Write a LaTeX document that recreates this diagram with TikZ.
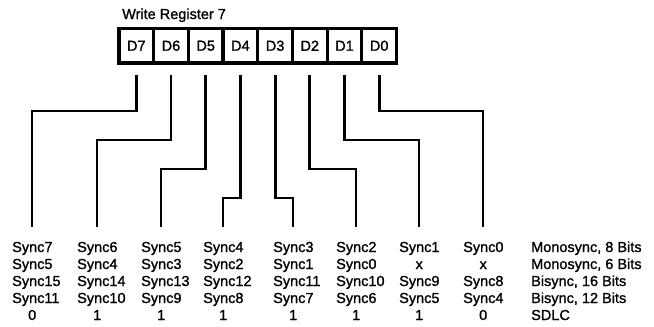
\documentclass[tikz,border=0pt]{standalone}
\usepackage{fontspec}
\setmainfont{Liberation Sans}[FakeBold=1.2]
\usetikzlibrary{positioning}

\tikzset{
    bitcell/.style={draw, line width=3.2pt, minimum width=34.7pt, minimum height=34.5pt,
        inner sep=0pt, outer sep=0pt, font=\fontsize{14.5}{17}\selectfont},
    wire/.style={line width=2.8pt},
    entry/.style={anchor=base west, inner sep=0pt, font=\fontsize{14.5}{17}\selectfont},
}
\newcommand\midbox[1]{\makebox[40pt]{#1}}

\begin{document}
\begin{tikzpicture}[x=1pt, y=-1pt]
\useasboundingbox (0,0) rectangle (654,327);

\pgfmathsetmacro\stubgap{12}
\pgfmathsetmacro\lineend{227}
\pgfmathsetmacro\firstrow{252}
\pgfmathsetmacro\rowsep{17}

\node[entry] (title) at (122,19) {Write Register 7};

\node[bitcell] (d7) at (136.3,45.75) {D7};
\foreach \bit [evaluate=\bit as \prev using int(\bit+1)] in {6,5,...,0}
    \node[bitcell, right=0pt of d\prev] (d\bit) {D\bit};

\foreach \bit/\colx/\jog/\ra/\rb/\rc/\rd/\re in {
    7/32/111/Sync7/Sync5/Sync15/Sync11/0,
    6/97/140/Sync6/Sync4/Sync14/Sync10/1,
    5/161/169/Sync5/Sync3/Sync13/Sync9/1,
    4/223/198/Sync4/Sync2/Sync12/Sync8/1,
    3/293/198/Sync3/Sync1/Sync11/Sync7/1,
    2/356/169/Sync2/Sync0/Sync10/Sync6/1,
    1/419/140/Sync1/\midbox{x}/Sync9/Sync5/1,
    0/483/111/Sync0/\midbox{x}/Sync8/Sync4/0}
{
    \coordinate (turn\bit) at (\colx,\jog);
    \coordinate (end\bit) at (\colx,\lineend);
    \draw[wire] ([yshift=-\stubgap pt]d\bit.south) |- (turn\bit) -- (end\bit);
    \foreach \txt [count=\r] in {\ra,\rb,\rc,\rd}
        \node[entry] (row\bit-\r) at ({\colx-20},{\firstrow+\rowsep*(\r-1)}) {\txt};
    \node[entry] (row\bit-5) at ({\colx-20},{\firstrow+\rowsep*4}) {\midbox{\re}};
}

\foreach \mode [count=\r] in {{Monosync, 8 Bits},{Monosync, 6 Bits},{Bisync, 16 Bits},{Bisync, 12 Bits},SDLC}
    \node[entry] (mode\r) at (531,{\firstrow+\rowsep*(\r-1)}) {\mode};

\end{tikzpicture}
\end{document}
